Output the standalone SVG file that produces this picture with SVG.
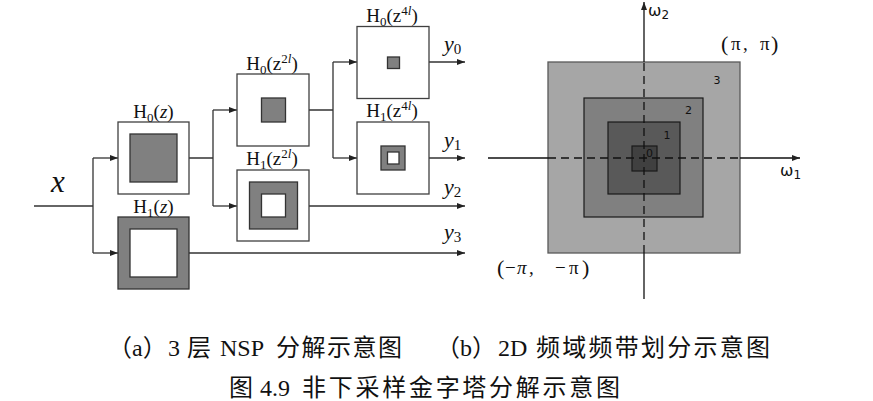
<svg xmlns="http://www.w3.org/2000/svg" width="873" height="401" viewBox="0 0 873 401">
<style>
.box{fill:#fff;stroke:#404040;stroke-width:1.3}
.gbox{fill:#808080;stroke:#333;stroke-width:1.3}
.wbox{fill:#fff;stroke:#333;stroke-width:1.3}
.ln{fill:none;stroke:#333;stroke-width:1.3}
.ax{fill:none;stroke:#111;stroke-width:1.3}
.dash{stroke-dasharray:8 5}
.lbl{font-family:"Liberation Serif","DejaVu Serif",serif;font-size:19px;fill:#111}
.ylbl{font-family:"Liberation Serif","DejaVu Serif",serif;font-size:22px;fill:#111}
.om{font-family:"DejaVu Sans","Liberation Sans",sans-serif;font-size:16px;fill:#111}
.pi{font-family:"Liberation Serif","DejaVu Serif",serif;font-size:19px;fill:#111}
.num{font-family:"DejaVu Sans","Liberation Sans",sans-serif;font-size:11px;fill:#111}
.cap{font-family:"Liberation Serif","Noto Sans CJK SC",serif;font-size:24px;fill:#111}
</style>
<defs>
<marker id="arr" markerUnits="userSpaceOnUse" markerWidth="9" markerHeight="7" refX="8" refY="3" orient="auto">
<path d="M0,0 L8,3 L0,6 z" fill="#222"/>
</marker>
</defs>

<g id="connectors">
<path class="ln" d="M34 206 H93"/>
<path class="ln" d="M93 158 V253"/>
<path class="ln" d="M93 158 H118" marker-end="url(#arr)"/>
<path class="ln" d="M93 253 H118" marker-end="url(#arr)"/>
<path class="ln" d="M189 158 H213 M213 110 V206"/>
<path class="ln" d="M213 110 H237" marker-end="url(#arr)"/>
<path class="ln" d="M213 206 H237" marker-end="url(#arr)"/>
<path class="ln" d="M309 110 H333 M333 62 V158"/>
<path class="ln" d="M333 62 H357" marker-end="url(#arr)"/>
<path class="ln" d="M333 158 H357" marker-end="url(#arr)"/>
<path class="ln" d="M429 62 H465" marker-end="url(#arr)"/>
<path class="ln" d="M429 158 H465" marker-end="url(#arr)"/>
<path class="ln" d="M309 206 H465" marker-end="url(#arr)"/>
<path class="ln" d="M189 253 H465" marker-end="url(#arr)"/>
</g>

<text class="lbl" x="51" y="192" font-style="italic" style="font-size:31px">x</text>

<g id="H0z">
<rect class="box" x="118" y="122" width="71" height="72"/>
<rect class="gbox" x="130" y="134" width="47" height="48"/>
<text class="lbl" x="153.5" y="118" text-anchor="middle">H<tspan dy="4" font-size="13">0</tspan><tspan dy="-4">(</tspan><tspan font-style="italic">z</tspan>)</text>
</g>
<g id="H1z">
<rect class="gbox" x="118" y="217" width="71" height="72"/>
<rect class="wbox" x="130" y="229" width="47" height="48"/>
<text class="lbl" x="153.5" y="213" text-anchor="middle">H<tspan dy="4" font-size="13">1</tspan><tspan dy="-4">(</tspan><tspan font-style="italic">z</tspan>)</text>
</g>
<g id="H0z2l">
<rect class="box" x="237" y="74" width="72" height="72"/>
<rect class="gbox" x="261.5" y="98" width="24" height="24"/>
<text class="lbl" x="272" y="70" text-anchor="middle">H<tspan dy="4" font-size="13">0</tspan><tspan dy="-4">(z</tspan><tspan dy="-7" font-size="13">2</tspan><tspan font-size="13" font-style="italic">l</tspan><tspan dy="7">)</tspan></text>
</g>
<g id="H1z2l">
<rect class="box" x="237" y="170" width="72" height="71"/>
<rect class="gbox" x="249.5" y="182" width="48" height="47"/>
<rect class="wbox" x="261.5" y="194" width="24" height="23"/>
<text class="lbl" x="272" y="165" text-anchor="middle">H<tspan dy="4" font-size="13">1</tspan><tspan dy="-4">(z</tspan><tspan dy="-7" font-size="13">2</tspan><tspan font-size="13" font-style="italic">l</tspan><tspan dy="7">)</tspan></text>
</g>
<g id="H0z4l">
<rect class="box" x="357" y="26.5" width="72" height="72"/>
<rect class="gbox" x="387.5" y="57" width="12" height="11.5"/>
<text class="lbl" x="392" y="22" text-anchor="middle">H<tspan dy="4" font-size="13">0</tspan><tspan dy="-4">(z</tspan><tspan dy="-7" font-size="13">4</tspan><tspan font-size="13" font-style="italic">l</tspan><tspan dy="7">)</tspan></text>
</g>
<g id="H1z4l">
<rect class="box" x="357" y="122" width="72" height="72"/>
<rect class="gbox" x="381" y="146" width="24" height="24"/>
<rect class="wbox" x="387.5" y="152" width="11.5" height="12"/>
<text class="lbl" x="392" y="117" text-anchor="middle">H<tspan dy="4" font-size="13">1</tspan><tspan dy="-4">(z</tspan><tspan dy="-7" font-size="13">4</tspan><tspan font-size="13" font-style="italic">l</tspan><tspan dy="7">)</tspan></text>
</g>

<g id="outputs">
<text class="ylbl" x="444" y="51" font-style="italic">y<tspan dy="3" font-size="15" font-style="normal">0</tspan></text>
<text class="ylbl" x="444" y="147" font-style="italic">y<tspan dy="3" font-size="15" font-style="normal">1</tspan></text>
<text class="ylbl" x="444" y="194" font-style="italic">y<tspan dy="3" font-size="15" font-style="normal">2</tspan></text>
<text class="ylbl" x="444" y="239" font-style="italic">y<tspan dy="3" font-size="15" font-style="normal">3</tspan></text>
</g>

<g id="bands">
<rect x="548" y="62" width="192" height="191" fill="#a6a6a6" stroke="#595959" stroke-width="1.3"/>
<rect x="584" y="98" width="119" height="119" fill="#808080" stroke="#1a1a1a" stroke-width="1.2"/>
<rect x="608" y="122" width="72" height="72" fill="#595959" stroke="#1a1a1a" stroke-width="1.2"/>
<rect x="632" y="146" width="25" height="25" fill="#404040" stroke="#1a1a1a" stroke-width="1.2"/>
<text class="num" x="713.5" y="84">3</text>
<text class="num" x="685" y="114">2</text>
<text class="num" x="663.5" y="139">1</text>
<text class="num" x="646" y="157">0</text>
</g>

<g id="axes">
<path class="ax" d="M488 158 H548"/>
<path class="ax dash" d="M548 158 H740"/>
<path class="ax" d="M740 158 H800" marker-end="url(#arr)"/>
<path class="ax" d="M644 299 V253"/>
<path class="ax dash" d="M644 253 V62"/>
<path class="ax" d="M644 62 V2" marker-end="url(#arr)"/>
<text class="om" x="648" y="16">ω<tspan dy="3" font-size="12">2</tspan></text>
<text class="om" x="780" y="176">ω<tspan dy="3" font-size="12">1</tspan></text>
<text class="pi"><tspan x="721" y="51" style="font-size:22px">(</tspan><tspan x="731" y="50">π</tspan><tspan x="743" y="50">,</tspan><tspan x="760" y="50">π</tspan><tspan x="771" y="51" style="font-size:22px">)</tspan></text>
<text class="pi"><tspan x="497" y="275" style="font-size:22px">(</tspan><tspan x="505" y="274">−</tspan><tspan x="517" y="274" font-style="italic">π</tspan><tspan x="529" y="274">,</tspan><tspan x="555" y="274">−</tspan><tspan x="569" y="274">π</tspan><tspan x="582" y="275" style="font-size:22px">)</tspan></text>
</g>

<g id="captions">
<text class="cap" x="108" y="356">（a）</text>
<text class="cap" x="168" y="356">3</text>
<text class="cap" x="187" y="356">层</text>
<text class="cap" x="220" y="356">NSP</text>
<text class="cap" x="276" y="356" textLength="126" lengthAdjust="spacing">分解示意图</text>
<text class="cap" x="436" y="356">（b）</text>
<text class="cap" x="498" y="356">2D</text>
<text class="cap" x="536" y="356" textLength="234" lengthAdjust="spacing">频域频带划分示意图</text>
<text class="cap" x="229" y="396">图</text>
<text class="cap" x="260" y="396">4.9</text>
<text class="cap" x="302" y="396" textLength="318" lengthAdjust="spacing">非下采样金字塔分解示意图</text>
</g>
</svg>
